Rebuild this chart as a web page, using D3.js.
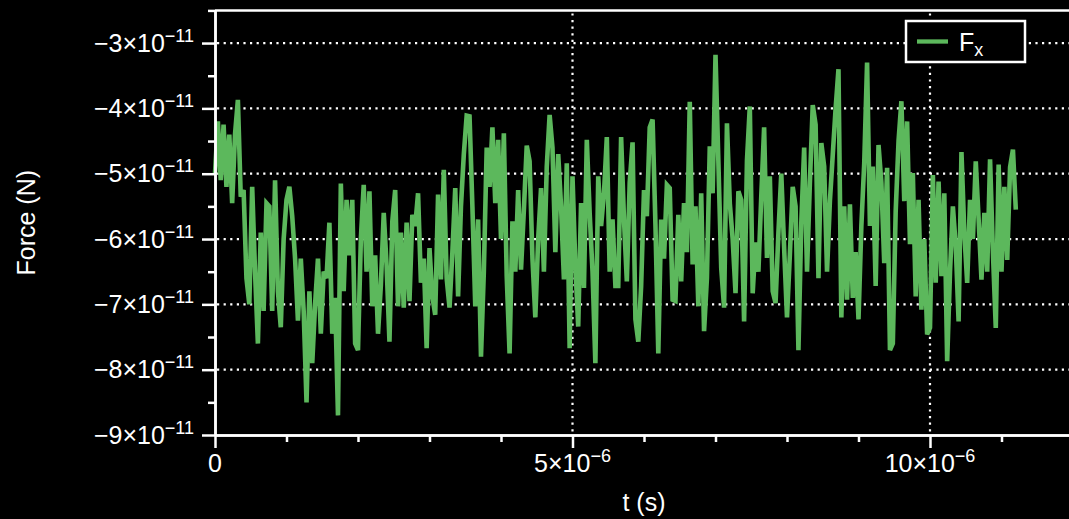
<!DOCTYPE html>
<html>
<head>
<meta charset="utf-8">
<script src="https://cdn.jsdelivr.net/npm/d3@7"></script>
<style>
  html, body { margin: 0; padding: 0; background: #000; }
  svg { display: block; }
  text { font-family: "Liberation Sans", Arial, sans-serif; fill: #fff; }
</style>
</head>
<body>
<svg id="chart" width="1069" height="519"></svg>
<script>
// ---- data (force in units of 1e-11 N, sampled every dt seconds) ----
const dt = 0.04e-6;
const fxE11 = [
  -5.0, -4.2, -5.1, -4.25, -5.2, -4.4, -5.45, -4.4, -3.87, -5.35,
  -5.25, -6.6, -7.0, -5.2, -6.5, -7.6, -5.9, -7.1, -5.45, -5.5,
  -7.1, -5.1, -6.8, -7.35, -6.0, -5.4, -5.2, -5.65, -6.3, -7.25,
  -6.3, -7.1, -8.5, -6.8, -7.9, -7.0, -6.3, -7.45, -6.5, -6.6,
  -5.75, -7.45, -6.9, -8.7, -5.15, -6.8, -5.4,
  -6.25, -5.4, -7.6, -7.7, -6.0, -5.17, -6.5, -5.27, -7.03, -6.25,
  -7.45, -6.7, -5.6, -6.4, -7.57, -5.73, -5.25, -7.03, -5.9, -7.05,
  -5.75, -6.95, -5.63, -5.8, -5.3, -6.67, -6.3, -7.67, -6.14, -6.88,
  -7.16, -5.32, -6.62, -4.94, -6.6, -7.05, -6.2, -5.22, -6.88, -5.5,
  -4.7, -4.11, -4.12, -5.5, -7.03, -5.7, -7.8,
  -6.5, -4.6, -5.2, -4.29, -5.45, -4.48, -6.0, -4.38, -6.57, -7.75,
  -5.73, -6.5, -5.25, -6.47, -5.55, -4.57, -4.81, -6.3, -7.2, -6.0,
  -5.22, -6.5, -4.89, -4.1, -4.6, -6.2, -4.7, -5.5, -6.62, -4.84,
  -7.67, -5.04, -6.4, -7.34, -5.45, -6.75, -4.48, -5.6, -6.5, -7.9,
  -5.04, -5.8, -5.3, -4.44, -6.5, -5.7, -6.72,
  -6.72, -4.44, -5.7, -6.65, -5.14, -4.52, -7.23, -7.57, -6.72, -5.25,
  -5.65, -4.29, -4.17, -5.78, -7.75, -5.7, -6.3, -5.17, -5.22, -6.93,
  -6.95, -5.63, -6.65, -5.45, -6.2, -3.9, -6.39, -5.5, -7.03, -5.3,
  -7.41, -6.6, -4.58, -5.3, -3.18, -4.81, -6.44, -7.05, -4.23, -5.45,
  -6.0, -6.83, -5.27, -5.4, -7.26, -4.8, -3.97,
  -6.83, -6.05, -6.5, -5.35, -4.29, -6.29, -5.04, -6.8, -6.98, -5.9,
  -5.0, -6.14, -7.2, -6.24, -5.2, -5.5, -7.7, -5.75, -4.6, -6.5,
  -5.14, -3.95, -4.25, -6.6, -4.53, -4.89, -6.5, -5.42, -4.71, -4.0,
  -3.4, -7.2, -5.5, -6.93, -5.47, -6.9, -6.2, -7.23, -5.8, -4.84,
  -3.3, -5.8, -4.89, -6.72, -4.56, -5.14, -6.37,
  -4.91, -7.7, -7.6, -5.58, -4.5, -3.89, -5.42, -4.2, -6.08, -4.99,
  -6.88, -5.4, -7.08, -6.0, -7.46, -7.36, -5.02, -6.67, -5.12, -6.57,
  -5.3, -7.87, -6.5, -5.5, -6.1, -7.26, -4.67, -5.9, -6.67, -5.4,
  -6.0, -4.81, -5.7, -6.62, -5.6, -6.5, -4.78, -6.2, -7.36, -4.86,
  -6.5, -5.2, -6.32, -4.9, -4.63, -5.55
];
const seriesName = "F";
const seriesSub = "x";

// ---- ticks ----
const yMajor = [-9e-11, -8e-11, -7e-11, -6e-11, -5e-11, -4e-11, -3e-11];
const yMajorLabels = [["\u22129", "\u221211"], ["\u22128", "\u221211"], ["\u22127", "\u221211"], ["\u22126", "\u221211"], ["\u22125", "\u221211"], ["\u22124", "\u221211"], ["\u22123", "\u221211"]];
const yMinor = [-8.5e-11, -7.5e-11, -6.5e-11, -5.5e-11, -4.5e-11, -3.5e-11, -2.5e-11];
const xMajor = [0, 5e-6, 10e-6];
const xMajorLabels = [["0", null], ["5", "\u22126"], ["10", "\u22126"]];
const xMinor = [1e-6, 2e-6, 3e-6, 4e-6, 6e-6, 7e-6, 8e-6, 9e-6, 11e-6, 12e-6];
const yGrid = [-8e-11, -7e-11, -6e-11, -5e-11, -4e-11, -3e-11];
const xGrid = [5e-6, 10e-6];

const data = fxE11.map((v, i) => ({ t: i * dt, f: v * 1e-11 }));

// ---- layout ----
const svg = d3.select("#chart");
const L = 215, R = 1073, T = 10.4, B = 435;
const x = d3.scaleLinear().domain([0, 12e-6]).range([L, R]);
const y = d3.scaleLinear().domain([-9e-11, -2.5e-11]).range([B, T]);
const green = "#5cb85c";
const axisW = 2.5;

svg.append("rect").attr("width", 1069).attr("height", 519).attr("fill", "#000");

// grid
const grid = svg.append("g").attr("stroke", "#fff").attr("stroke-width", 2.2)
  .attr("stroke-dasharray", "2.2,4.4");
grid.selectAll("line.h").data(yGrid).join("line")
  .attr("x1", L + 2).attr("x2", R).attr("y1", d => y(d)).attr("y2", d => y(d));
grid.selectAll("line.v").data(xGrid).join("line")
  .attr("x1", d => x(d)).attr("x2", d => x(d)).attr("y1", T + 3).attr("y2", B - 2);

// data line
svg.append("path").datum(data)
  .attr("fill", "none").attr("stroke", green).attr("stroke-width", 4.6)
  .attr("stroke-linejoin", "miter").attr("stroke-miterlimit", 3)
  .attr("d", d3.line().x(d => x(d.t)).y(d => y(d.f)));

// axes
function styleAxis(g) {
  g.select(".domain").attr("stroke", "#fff").attr("stroke-width", axisW);
  g.selectAll(".tick line").attr("stroke", "#fff").attr("stroke-width", axisW);
}
const yAx = svg.append("g").attr("transform", `translate(${L},0)`)
  .call(d3.axisLeft(y).tickValues(yMajor).tickSize(13).tickSizeOuter(0).tickFormat(""));
styleAxis(yAx);
const yAxMin = svg.append("g").attr("transform", `translate(${L},0)`)
  .call(d3.axisLeft(y).tickValues(yMinor).tickSize(7).tickSizeOuter(0).tickFormat(""));
styleAxis(yAxMin);
const xAx = svg.append("g").attr("transform", `translate(0,${B})`)
  .call(d3.axisBottom(x).tickValues(xMajor).tickSize(13).tickSizeOuter(0).tickFormat(""));
styleAxis(xAx);
const xAxMin = svg.append("g").attr("transform", `translate(0,${B})`)
  .call(d3.axisBottom(x).tickValues(xMinor).tickSize(7).tickSizeOuter(0).tickFormat(""));
styleAxis(xAxMin);
// top frame
svg.append("line").attr("x1", L).attr("x2", R).attr("y1", T).attr("y2", T)
  .attr("stroke", "#fff").attr("stroke-width", axisW);

// tick labels
function sciLabel(sel, parts) {
  const [m, e] = parts;
  if (e === null) { sel.append("tspan").attr("font-size", 25).text(m); return; }
  sel.append("tspan").attr("font-size", 25).text(m + "\u00d710");
  sel.append("tspan").attr("font-size", 18).attr("dy", -10).text(e);
}
yMajor.forEach((v, i) => {
  const t = svg.append("text").attr("x", 194).attr("y", y(v) + 8.7)
    .attr("text-anchor", "end");
  sciLabel(t, yMajorLabels[i]);
});
xMajor.forEach((v, i) => {
  const t = svg.append("text").attr("x", x(v)).attr("y", 472)
    .attr("text-anchor", "middle");
  sciLabel(t, xMajorLabels[i]);
});

// axis titles
svg.append("text").attr("x", (L + R) / 2).attr("y", 511).attr("text-anchor", "middle")
  .attr("font-size", 25).text("t (s)");
svg.append("text").attr("transform", `translate(35,${(T + B) / 2}) rotate(-90)`)
  .attr("text-anchor", "middle").attr("font-size", 25).text("Force (N)");

// legend
const lg = svg.append("g");
lg.append("rect").attr("x", 906).attr("y", 21).attr("width", 119).attr("height", 41)
  .attr("fill", "#000").attr("stroke", "#fff").attr("stroke-width", 2.5);
lg.append("line").attr("x1", 917).attr("x2", 948).attr("y1", 41.5).attr("y2", 41.5)
  .attr("stroke", green).attr("stroke-width", 4.3);
const lt = lg.append("text").attr("x", 959).attr("y", 50.7);
lt.append("tspan").attr("font-size", 25).text(seriesName);
lt.append("tspan").attr("font-size", 18).attr("dy", 5.3).text(seriesSub);
</script>
</body>
</html>
